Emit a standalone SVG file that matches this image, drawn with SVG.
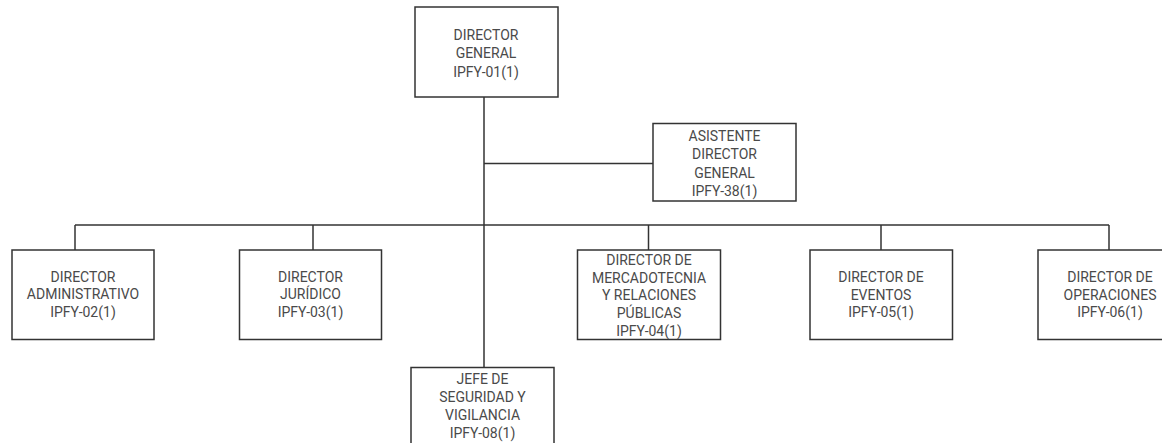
<svg xmlns="http://www.w3.org/2000/svg" width="1162" height="443" viewBox="0 0 1162 443">
<style>
.box{fill:#fff;stroke:#333;stroke-width:1.5}
.ln{fill:none;stroke:#333;stroke-width:1.5}
text{font-family:Roboto,"Liberation Sans",sans-serif;font-size:14px;fill:#4a4a4a;text-anchor:middle}
</style>
<rect width="1162" height="443" fill="#fff"/>
<g id="connectors">
<line class="ln" x1="484" y1="97" x2="484" y2="367"/>
<line class="ln" x1="484" y1="163.5" x2="653" y2="163.5"/>
<line class="ln" x1="75" y1="225" x2="1109" y2="225"/>
<line class="ln" x1="75" y1="225" x2="75" y2="250"/>
<line class="ln" x1="313" y1="225" x2="313" y2="250"/>
<line class="ln" x1="648.5" y1="225" x2="648.5" y2="250"/>
<line class="ln" x1="881" y1="225" x2="881" y2="250"/>
<line class="ln" x1="1109" y1="225" x2="1109" y2="250"/>
</g>
<g id="director-general">
<rect class="box" x="415" y="7" width="143" height="90"/>
<text x="486" y="39.5">DIRECTOR</text>
<text x="486" y="58">GENERAL</text>
<text x="486" y="77">IPFY-01(1)</text>
</g>
<g id="asistente">
<rect class="box" x="653" y="123.5" width="143" height="77.5"/>
<text x="724.5" y="140.5">ASISTENTE</text>
<text x="724.5" y="159">DIRECTOR</text>
<text x="724.5" y="177.5">GENERAL</text>
<text x="724.5" y="195.5">IPFY-38(1)</text>
</g>
<g id="dir-administrativo">
<rect class="box" x="12" y="250" width="142" height="89.5"/>
<text x="83" y="281.5">DIRECTOR</text>
<text x="83" y="299">ADMINISTRATIVO</text>
<text x="83" y="316.5">IPFY-02(1)</text>
</g>
<g id="dir-juridico">
<rect class="box" x="239.5" y="250" width="142" height="89.5"/>
<text x="310.5" y="281.5">DIRECTOR</text>
<text x="310.5" y="299">JURÍDICO</text>
<text x="310.5" y="316.5">IPFY-03(1)</text>
</g>
<g id="dir-mercadotecnia">
<rect class="box" x="577.5" y="250" width="143" height="89.5"/>
<text x="649" y="265">DIRECTOR DE</text>
<text x="649" y="282.5">MERCADOTECNIA</text>
<text x="649" y="300">Y RELACIONES</text>
<text x="649" y="317.5">PÚBLICAS</text>
<text x="649" y="335.5">IPFY-04(1)</text>
</g>
<g id="dir-eventos">
<rect class="box" x="810" y="250" width="142.5" height="89.5"/>
<text x="881" y="282">DIRECTOR DE</text>
<text x="881" y="299.5">EVENTOS</text>
<text x="881" y="317">IPFY-05(1)</text>
</g>
<g id="dir-operaciones">
<rect class="box" x="1038" y="250" width="142" height="89.5"/>
<text x="1110" y="282">DIRECTOR DE</text>
<text x="1110" y="299.5">OPERACIONES</text>
<text x="1110" y="317">IPFY-06(1)</text>
</g>
<g id="jefe-seguridad">
<rect class="box" x="411" y="367.5" width="143" height="90"/>
<text x="482.5" y="383.5">JEFE DE</text>
<text x="482.5" y="402">SEGURIDAD Y</text>
<text x="482.5" y="420">VIGILANCIA</text>
<text x="482.5" y="438">IPFY-08(1)</text>
</g>
</svg>
